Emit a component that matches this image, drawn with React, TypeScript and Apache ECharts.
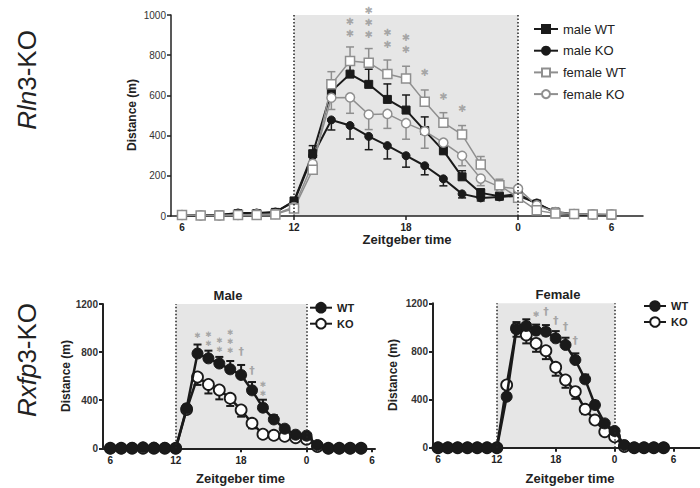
import { useEffect, useRef } from 'react';
import * as echarts from 'echarts';

const FONT = "'Liberation Sans', Arial, Helvetica, sans-serif";
const STAR_FONT = "'DejaVu Sans', sans-serif";

// Zeitgeber hours (24 = ZT0, 29 = ZT5)
const HOURS = [6, 7, 8, 9, 10, 11, 12, 13, 14, 15, 16, 17, 18, 19, 20, 21, 22, 23, 24, 25, 26, 27, 28, 29];

// ---------- Rln3-KO panel ----------
const RLN_MALE_WT = [5, 3, 5, 12, 12, 18, 75, 310, 620, 706, 655, 580, 527, 425, 325, 195, 115, 98, 110, 60, 20, 10, 8, 5];
const RLN_MALE_WT_SEM = [3, 3, 3, 5, 5, 6, 15, 40, 55, 60, 75, 77, 75, 68, 45, 30, 20, 15, 15, 10, 5, 3, 3, 3];
const RLN_MALE_KO = [5, 3, 5, 15, 15, 20, 70, 300, 478, 450, 396, 350, 300, 250, 185, 110, 90, 95, 100, 65, 15, 8, 5, 5];
const RLN_MALE_KO_SEM = [3, 3, 3, 5, 5, 6, 15, 40, 50, 67, 66, 66, 57, 45, 35, 20, 15, 12, 12, 10, 5, 3, 3, 3];
const RLN_FEMALE_WT = [5, 3, 3, 5, 5, 8, 37, 230, 655, 771, 763, 706, 684, 569, 464, 405, 256, 153, 91, 28, 12, 10, 8, 8];
const RLN_FEMALE_WT_SEM = [3, 3, 3, 3, 3, 4, 10, 35, 63, 70, 70, 70, 61, 58, 50, 45, 40, 30, 20, 10, 5, 3, 3, 3];
const RLN_FEMALE_KO = [5, 3, 3, 5, 8, 10, 45, 260, 588, 590, 505, 508, 462, 422, 365, 300, 186, 145, 136, 53, 20, 10, 8, 8];
const RLN_FEMALE_KO_SEM = [3, 3, 3, 3, 3, 4, 10, 35, 58, 79, 75, 72, 80, 85, 60, 50, 35, 25, 20, 10, 5, 3, 3, 3];
// significance columns: [hour, centre value of the stack, number of stars]
const RLN_STARS = [[15, 940, 2], [16, 964, 3], [17, 885, 2], [18, 859, 2], [19, 713, 1], [20, 593, 1], [21, 535, 1]];
const RLN_TICKS = [6, 12, 18, 24, 29];
const RLN_TICK_LABELS = ['6', '12', '18', '0', '6'];
const RLN_Y_TICKS = [0, 200, 400, 600, 800, 1000];

// ---------- Rxfp3-KO panels ----------
const RXFP_MALE_WT = [0, 0, 3, 8, 5, 3, 0, 333, 788, 748, 705, 657, 610, 482, 338, 240, 163, 113, 105, 27, 0, 0, 0, 0];
const RXFP_MALE_WT_SEM = [0, 0, 0, 0, 0, 0, 0, 30, 75, 64, 55, 69, 83, 69, 66, 36, 20, 15, 15, 8, 0, 0, 0, 0];
const RXFP_MALE_KO = [0, 0, 0, 0, 0, 0, 0, 322, 593, 531, 485, 416, 319, 208, 117, 108, 100, 88, 75, 15, 0, 0, 0, 0];
const RXFP_MALE_KO_SEM = [0, 0, 0, 0, 0, 0, 0, 30, 66, 75, 78, 64, 56, 42, 25, 15, 10, 10, 10, 5, 0, 0, 0, 0];
const RXFP_MALE_STARS = [[14, 934, 1], [15, 910, 2], [16, 859, 2], [17, 885, 3], [20, 494, 2]];
const RXFP_MALE_DAGGERS = [[18, 803, 1], [19, 651, 1]];

const RXFP_FEMALE_WT = [0, 0, 0, 0, 0, 0, 0, 424, 984, 1012, 973, 964, 909, 854, 729, 568, 355, 202, 139, 22, 0, 0, 0, 0];
const RXFP_FEMALE_WT_SEM = [0, 0, 0, 0, 0, 0, 0, 30, 60, 55, 50, 55, 60, 60, 55, 40, 30, 20, 15, 5, 0, 0, 0, 0];
const RXFP_FEMALE_KO = [0, 0, 0, 0, 0, 0, 0, 521, 992, 937, 867, 806, 668, 563, 466, 319, 230, 133, 91, 10, 0, 0, 0, 0];
const RXFP_FEMALE_KO_SEM = [0, 0, 0, 0, 0, 0, 0, 30, 70, 70, 70, 70, 70, 65, 60, 40, 30, 20, 15, 5, 0, 0, 0, 0];
const RXFP_FEMALE_STARS = [[16, 1108, 1]];
const RXFP_FEMALE_DAGGERS = [[17, 1131, 1], [18, 1061, 1], [19, 1006, 1], [20, 890, 1]];

const RXFP_TICKS = [6, 12, 18, 24, 30];
const RXFP_TICK_LABELS = ['6', '12', '18', '0', '6'];
const RXFP_Y_TICKS = [0, 400, 800, 1200];

const DARK_START = 12;
const DARK_END = 24;

const BLACK = '#1a1a1a';
const GRAY = '#8f8f8f';
const STAR = '#959595';

function pairs(values: number[]) {
  return HOURS.map((h, i) => [h, values[i]]);
}

function errorSeries(idx: number, values: number[], sems: number[], dir: number, color: string, capW: number, lw: number) {
  return {
    type: 'custom',
    xAxisIndex: idx,
    yAxisIndex: idx,
    z: 2,
    silent: true,
    data: HOURS.map((h, i) => [h, values[i], values[i] + dir * sems[i]]),
    renderItem: (params: any, api: any) => {
      const p0 = api.coord([api.value(0), api.value(1)]);
      const p1 = api.coord([api.value(0), api.value(2)]);
      if (Math.abs(p1[1] - p0[1]) < 3) return { type: 'group', children: [] };
      return {
        type: 'group',
        children: [
          { type: 'line', shape: { x1: p0[0], y1: p0[1], x2: p1[0], y2: p1[1] }, style: { stroke: color, lineWidth: lw } },
          { type: 'line', shape: { x1: p1[0] - capW / 2, y1: p1[1], x2: p1[0] + capW / 2, y2: p1[1] }, style: { stroke: color, lineWidth: lw } },
        ],
      };
    },
  };
}

function markSeries(idx: number, points: number[][], glyph: string, fontSize: number, lineHeight: number, dy: number, weight: string) {
  return {
    type: 'scatter',
    xAxisIndex: idx,
    yAxisIndex: idx,
    z: 6,
    silent: true,
    clip: false,
    symbolSize: 1,
    itemStyle: { color: 'rgba(0,0,0,0)' },
    data: points,
    label: {
      show: true,
      position: 'inside',
      formatter: (p: any) => Array(p.value[2]).fill(glyph).join('\n'),
      color: STAR,
      fontSize,
      lineHeight,
      fontFamily: STAR_FONT,
      fontWeight: weight,
      offset: [0, dy],
    },
  };
}

function shadeSeries(idx: number, ymax: number) {
  return {
    type: 'line',
    xAxisIndex: idx,
    yAxisIndex: idx,
    z: 0,
    silent: true,
    data: [],
    markArea: {
      silent: true,
      itemStyle: { color: '#e6e6e6' },
      data: [[{ xAxis: DARK_START, yAxis: 0 }, { xAxis: DARK_END, yAxis: ymax }]],
    },
    markLine: {
      silent: true,
      symbol: 'none',
      label: { show: false },
      lineStyle: { color: '#222', type: [1.5, 2], width: 1.5 },
      data: [{ xAxis: DARK_START }, { xAxis: DARK_END }],
    },
  };
}

function xAxisDef(idx: number, min: number, max: number, ticks: number[], labels: string[], lw: number, labelSize: number, margin: number) {
  return {
    type: 'value',
    gridIndex: idx,
    min,
    max,
    z: 1,
    axisLine: { show: true, lineStyle: { color: '#222', width: lw } },
    axisTick: { show: true, length: 4, customValues: ticks, lineStyle: { color: '#222', width: lw } },
    axisLabel: {
      show: true,
      customValues: ticks,
      formatter: (v: number) => labels[ticks.indexOf(v)] ?? '',
      color: '#222',
      fontSize: labelSize,
      fontWeight: 'bold',
      fontFamily: FONT,
      margin,
    },
    splitLine: { show: false },
  };
}

function yAxisDef(idx: number, max: number, interval: number, lw: number, labelSize: number, bold: boolean) {
  return {
    type: 'value',
    gridIndex: idx,
    min: 0,
    max,
    interval,
    z: 1,
    axisLine: { show: true, lineStyle: { color: '#222', width: lw } },
    axisTick: { show: true, length: 4, lineStyle: { color: '#222', width: lw } },
    axisLabel: {
      color: '#333',
      fontSize: labelSize,
      fontWeight: bold ? 'bold' : 'normal',
      fontFamily: FONT,
      margin: 5,
      formatter: (v: number) => String(v),
    },
    splitLine: { show: false },
  };
}

function text(x: number, y: number, t: string, size: number, weight: string, rotate = false) {
  return {
    type: 'text',
    x,
    y,
    rotation: rotate ? Math.PI / 2 : 0,
    style: { text: t, fontSize: size, fontWeight: weight, fontFamily: FONT, fill: '#222', align: 'center', verticalAlign: 'middle' },
    silent: true,
  };
}

function richTitle(x: number, y: number, italicPart: string, rest: string) {
  const base = { fontSize: 26, fontFamily: FONT, fill: '#222' };
  return {
    type: 'text',
    x,
    y,
    rotation: Math.PI / 2,
    silent: true,
    style: {
      text: `{i|${italicPart}}{n|${rest}}`,
      fontSize: 26,
      fontFamily: FONT,
      fill: '#222',
      align: 'center',
      verticalAlign: 'middle',
      rich: {
        i: { ...base, fontStyle: 'italic' },
        n: { ...base },
      },
    },
  };
}

const bottomLegendText = { fontSize: 11, lineHeight: 12, fontWeight: 'bold', color: '#222', fontFamily: FONT };

export default function App() {
  const ref = useRef<HTMLDivElement>(null);

  useEffect(() => {
    if (!ref.current) return;
    const chart = echarts.init(ref.current, undefined, { renderer: 'svg' });

    const option: any = {
      animation: false,
      backgroundColor: '#ffffff',
      textStyle: { fontFamily: FONT },
      grid: [
        { left: 171, top: 15, width: 472, height: 201 },
        { left: 103, top: 304, width: 272, height: 144.3 },
        { left: 433, top: 303.3, width: 300, height: 144.4 },
      ],
      xAxis: [
        xAxisDef(0, 5.411, 30.69, RLN_TICKS, RLN_TICK_LABELS, 1.5, 10, 6),
        xAxisDef(1, 5.33, 30.28, RXFP_TICKS, RXFP_TICK_LABELS, 2, 10, 7),
        xAxisDef(2, 5.49, 32.71, RXFP_TICKS, RXFP_TICK_LABELS, 2, 10, 7),
      ],
      yAxis: [
        yAxisDef(0, RLN_Y_TICKS[RLN_Y_TICKS.length - 1], RLN_Y_TICKS[1], 1.5, 10, false),
        yAxisDef(1, RXFP_Y_TICKS[RXFP_Y_TICKS.length - 1], RXFP_Y_TICKS[1], 2, 10, true),
        yAxisDef(2, RXFP_Y_TICKS[RXFP_Y_TICKS.length - 1], RXFP_Y_TICKS[1], 2, 10, true),
      ],
      legend: [
        {
          data: ['male WT', 'male KO', 'female WT', 'female KO'],
          orient: 'vertical',
          left: 533,
          top: 22,
          padding: 0,
          itemWidth: 24,
          itemHeight: 10,
          itemGap: 7.7,
          selectedMode: false,
          textStyle: { fontSize: 13, lineHeight: 14, color: '#222', fontFamily: FONT },
        },
        {
          data: ['WT', 'KO'],
          orient: 'vertical',
          left: 309,
          top: 301.7,
          padding: 0,
          itemWidth: 22,
          itemHeight: 12,
          itemGap: 4,
          selectedMode: false,
          textStyle: bottomLegendText,
        },
        {
          data: ['WT', 'KO'],
          orient: 'vertical',
          left: 643,
          top: 300,
          padding: 0,
          itemWidth: 22,
          itemHeight: 12,
          itemGap: 4,
          selectedMode: false,
          textStyle: bottomLegendText,
        },
      ],
      graphic: [
        richTitle(27, 80, 'Rln', '3-KO'),
        richTitle(27, 360, 'Rxfp', '3-KO'),
        text(131.7, 115, 'Distance (m)', 12, 'bold', true),
        text(66, 376, 'Distance (m)', 12, 'bold', true),
        text(393, 375, 'Distance (m)', 12, 'bold', true),
        text(407, 239, 'Zeitgeber time', 13, 'bold'),
        text(240.5, 478, 'Zeitgeber time', 13, 'bold'),
        text(570, 478, 'Zeitgeber time', 13, 'bold'),
        text(228, 295, 'Male', 13, 'bold'),
        text(558, 294, 'Female', 13, 'bold'),
      ],
      series: [
        shadeSeries(0, 1000),
        shadeSeries(1, 1200),
        shadeSeries(2, 1200),

        // Rln3 error bars
        errorSeries(0, RLN_MALE_KO, RLN_MALE_KO_SEM, -1, BLACK, 8, 1.5),
        errorSeries(0, RLN_MALE_WT, RLN_MALE_WT_SEM, 1, BLACK, 8, 1.5),
        errorSeries(0, RLN_FEMALE_KO, RLN_FEMALE_KO_SEM, -1, GRAY, 8, 1.5),
        errorSeries(0, RLN_FEMALE_WT, RLN_FEMALE_WT_SEM, 1, GRAY, 8, 1.5),

        {
          name: 'male KO', type: 'line', xAxisIndex: 0, yAxisIndex: 0, z: 3,
          data: pairs(RLN_MALE_KO), symbol: 'circle', symbolSize: 8, showAllSymbol: true,
          lineStyle: { color: BLACK, width: 2 }, itemStyle: { color: BLACK, borderColor: BLACK, borderWidth: 1 },
        },
        {
          name: 'male WT', type: 'line', xAxisIndex: 0, yAxisIndex: 0, z: 3,
          data: pairs(RLN_MALE_WT), symbol: 'rect', symbolSize: 8, showAllSymbol: true,
          lineStyle: { color: BLACK, width: 2 }, itemStyle: { color: BLACK, borderColor: BLACK, borderWidth: 1 },
        },
        {
          name: 'female KO', type: 'line', xAxisIndex: 0, yAxisIndex: 0, z: 3,
          data: pairs(RLN_FEMALE_KO), symbol: 'circle', symbolSize: 9, showAllSymbol: true,
          lineStyle: { color: GRAY, width: 1.5 }, itemStyle: { color: '#ffffff', borderColor: GRAY, borderWidth: 1.5 },
        },
        {
          name: 'female WT', type: 'line', xAxisIndex: 0, yAxisIndex: 0, z: 3,
          data: pairs(RLN_FEMALE_WT), symbol: 'rect', symbolSize: 9, showAllSymbol: true,
          lineStyle: { color: GRAY, width: 1.5 }, itemStyle: { color: '#ffffff', borderColor: GRAY, borderWidth: 1.5 },
        },
        markSeries(0, RLN_STARS, '✱', 10, 12, 0, 'normal'),

        // Rxfp3 male
        errorSeries(1, RXFP_MALE_KO, RXFP_MALE_KO_SEM, -1, BLACK, 8, 2),
        errorSeries(1, RXFP_MALE_WT, RXFP_MALE_WT_SEM, 1, BLACK, 8, 2),
        {
          name: 'KO', type: 'line', xAxisIndex: 1, yAxisIndex: 1, z: 3,
          data: pairs(RXFP_MALE_KO), symbol: 'circle', symbolSize: 11, showAllSymbol: true,
          lineStyle: { color: BLACK, width: 2.5 }, itemStyle: { color: '#ffffff', borderColor: BLACK, borderWidth: 1.8 },
        },
        {
          name: 'WT', type: 'line', xAxisIndex: 1, yAxisIndex: 1, z: 4,
          data: pairs(RXFP_MALE_WT), symbol: 'circle', symbolSize: 11, showAllSymbol: true,
          lineStyle: { color: BLACK, width: 2.5 }, itemStyle: { color: BLACK, borderColor: BLACK, borderWidth: 1 },
        },
        markSeries(1, RXFP_MALE_STARS, '✱', 7.6, 9, 0, 'normal'),
        markSeries(1, RXFP_MALE_DAGGERS, '†', 11, 11, 0, 'bold'),

        // Rxfp3 female
        errorSeries(2, RXFP_FEMALE_KO, RXFP_FEMALE_KO_SEM, -1, BLACK, 8, 2),
        errorSeries(2, RXFP_FEMALE_WT, RXFP_FEMALE_WT_SEM, 1, BLACK, 8, 2),
        {
          name: 'KO', type: 'line', xAxisIndex: 2, yAxisIndex: 2, z: 3,
          data: pairs(RXFP_FEMALE_KO), symbol: 'circle', symbolSize: 11, showAllSymbol: true,
          lineStyle: { color: BLACK, width: 2.5 }, itemStyle: { color: '#ffffff', borderColor: BLACK, borderWidth: 1.8 },
        },
        {
          name: 'WT', type: 'line', xAxisIndex: 2, yAxisIndex: 2, z: 4,
          data: pairs(RXFP_FEMALE_WT), symbol: 'circle', symbolSize: 11, showAllSymbol: true,
          lineStyle: { color: BLACK, width: 2.5 }, itemStyle: { color: BLACK, borderColor: BLACK, borderWidth: 1 },
        },
        markSeries(2, RXFP_FEMALE_STARS, '✱', 8, 9, 0, 'normal'),
        markSeries(2, RXFP_FEMALE_DAGGERS, '†', 11, 11, 0, 'bold'),
      ],
    };

    chart.setOption(option);
    return () => chart.dispose();
  }, []);

  return (
    <div
      ref={ref}
      style={{ position: 'absolute', left: 0, top: 0, width: 700, height: 488, background: '#fff' }}
    />
  );
}
